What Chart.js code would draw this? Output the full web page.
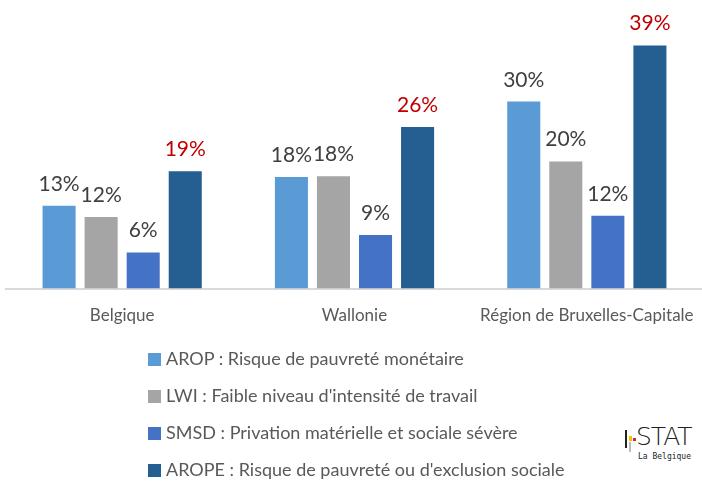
<!DOCTYPE html>
<html>
<head>
<meta charset="utf-8">
<script src="https://cdn.jsdelivr.net/npm/chart.js@4"></script>
<style>
  body { margin: 0; background: #fff; font-family: Lato, "Open Sans", sans-serif; }
  #wrap { position: relative; width: 702px; height: 481px; overflow: hidden; }
  #chartBox { position: absolute; left: 0; top: 0; width: 720px; height: 350px; }
  #legend { position: absolute; left: 148px; top: 340px; }
  .item { height: 37px; line-height: 37px; font-size: 18px; color: #595959; white-space: nowrap; }
  .sw { display: inline-block; width: 13px; height: 13px; margin-right: 5px; vertical-align: -1px; }
  #logo { position: absolute; left: 622px; top: 428px; width: 80px; height: 36px; }
  #logo .b { position: absolute; }
  #logo .t { position: absolute; left: 14px; top: -6px; font-family: "DejaVu Sans", sans-serif; font-weight: 300; font-size: 25px; color: #222; letter-spacing: -1px; }
  #logo .s { position: absolute; left: 16px; top: 24px; font-family: "DejaVu Sans Mono", monospace; font-size: 8px; color: #222; }
</style>
</head>
<body>
<div id="wrap">
  <div id="chartBox"><canvas id="chartCanvas"></canvas></div>
  <div id="legend"></div>
  <div id="logo">
    <div class="b" style="left:3px;top:2px;width:2px;height:18px;background:#222"></div>
    <div class="b" style="left:7px;top:8px;width:3px;height:5px;background:#f2c200"></div>
    <div class="b" style="left:11px;top:10px;width:3px;height:3px;background:#d8262e"></div>
    <div class="b" style="left:7px;top:14px;width:2px;height:10px;background:#bbb"></div>
    <div class="t">STAT</div>
    <div class="s">La Belgique</div>
  </div>
</div>
<script>
const categories = ["Belgique", "Wallonie", "Région de Bruxelles-Capitale"];
const seriesNames = [
  "AROP : Risque de pauvreté monétaire",
  "LWI : Faible niveau d'intensité de travail",
  "SMSD : Privation matérielle et sociale sévère",
  "AROPE : Risque de pauvreté ou d'exclusion sociale"
];
const arop = [13.3, 17.9, 30.0];
const lwi = [11.5, 18.0, 20.4];
const smsd = [5.8, 8.6, 11.7];
const arope = [18.8, 25.9, 39.0];
const colors = ["#5B9BD5", "#A5A5A5", "#4472C4", "#255E91"];
const labelColors = ["#404040", "#404040", "#404040", "#C00000"];

const allSeries = [arop, lwi, smsd, arope];

// percent labels above each bar, AROPE in red
const valueLabels = {
  id: "valueLabels",
  afterDatasetsDraw(chart) {
    const ctx = chart.ctx;
    ctx.save();
    ctx.font = "21px Lato, 'Open Sans', sans-serif";
    ctx.textAlign = "center";
    ctx.textBaseline = "alphabetic";
    chart.data.datasets.forEach((ds, i) => {
      const meta = chart.getDatasetMeta(i);
      ctx.fillStyle = labelColors[i];
      meta.data.forEach((bar, j) => {
        ctx.fillText(Math.round(ds.data[j]) + "%", bar.x, bar.y - 15);
      });
    });
    ctx.restore();
  }
};

const chart = new Chart(document.getElementById("chartCanvas").getContext("2d"), {
  type: "bar",
  data: {
    labels: categories,
    datasets: allSeries.map((vals, i) => ({
      label: seriesNames[i],
      data: vals,
      backgroundColor: colors[i],
      borderWidth: 0,
      categoryPercentage: 0.724,
      barPercentage: 0.786
    }))
  },
  options: {
    responsive: true,
    maintainAspectRatio: false,
    animation: false,
    layout: { padding: { left: 6, right: 17, top: 8, bottom: 7 } },
    plugins: { legend: { display: false }, tooltip: { enabled: false } },
    scales: {
      x: {
        grid: { display: false, drawTicks: false },
        border: { color: "#D9D9D9", width: 2 },
        ticks: { color: "#595959", font: { family: "Lato", size: 17 }, padding: 17 }
      },
      y: { display: false, min: 0, max: 45 }
    }
  },
  plugins: [valueLabels]
});

const legend = document.getElementById("legend");
seriesNames.forEach((name, i) => {
  const row = document.createElement("div");
  row.className = "item";
  row.innerHTML = `<span class="sw" style="background:${colors[i]}"></span>${name}`;
  legend.appendChild(row);
});
</script>
</body>
</html>
